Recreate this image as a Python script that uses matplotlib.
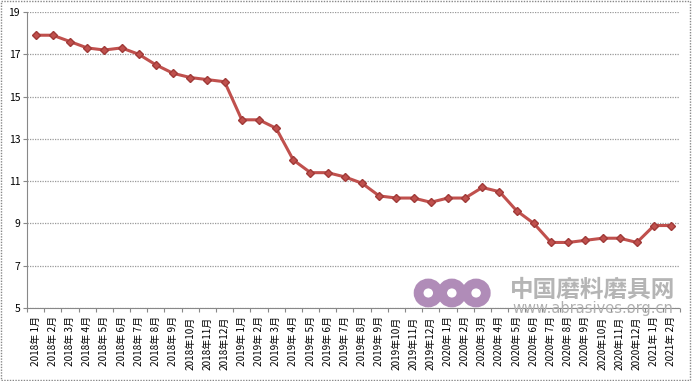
import matplotlib.pyplot as plt
from matplotlib.patches import Rectangle, Ellipse

plt.rcParams['font.family'] = ['Noto Sans CJK SC', 'DejaVu Sans']

# 月份标签
months = ['2018年 1月', '2018年 2月', '2018年 3月', '2018年 4月', '2018年 5月', '2018年 6月',
          '2018年 7月', '2018年 8月', '2018年 9月', '2018年10月', '2018年11月', '2018年12月',
          '2019年 1月', '2019年 2月', '2019年 3月', '2019年 4月', '2019年 5月', '2019年 6月',
          '2019年 7月', '2019年 8月', '2019年 9月', '2019年10月', '2019年11月', '2019年12月',
          '2020年 1月', '2020年 2月', '2020年 3月', '2020年 4月', '2020年 5月', '2020年 6月',
          '2020年 7月', '2020年 8月', '2020年 9月', '2020年10月', '2020年11月', '2020年12月',
          '2021年 1月', '2021年 2月']
# 数值
values = [17.9, 17.9, 17.6, 17.3, 17.2, 17.3, 17.0, 16.5, 16.1, 15.9, 15.8, 15.7,
          13.9, 13.9, 13.5, 12.0, 11.4, 11.4, 11.2, 10.9, 10.3, 10.2, 10.2, 10.0,
          10.2, 10.2, 10.7, 10.5, 9.6, 9.0, 8.1, 8.1, 8.2, 8.3, 8.3, 8.1,
          8.9, 8.9]
yticks = [5, 7, 9, 11, 13, 15, 17, 19]

fig = plt.figure(figsize=(6.93, 3.81), dpi=100)
ax = fig.add_axes([0.039, 0.1916, 0.942, 0.777])

x = list(range(len(months)))
ax.plot(x, values, color='#c0504d', linewidth=2.2, marker='D', markersize=4.5,
        markerfacecolor='#c0504d', markeredgecolor='#a03a38', zorder=3)

ax.set_xlim(-0.5, len(months) - 0.5)
ax.set_ylim(5, 19)
ax.set_yticks(yticks)
ax.set_yticklabels([str(v) for v in yticks], fontsize=7.5)
ax.yaxis.grid(True, color='#999999', linewidth=0.9, linestyle=(0, (1, 1)))

# 类别轴: 刻度在分隔处
ax.set_xticks([i - 0.5 for i in range(len(months) + 1)])
ax.set_xticklabels([''] * (len(months) + 1))
ax.set_xticks(x, minor=True)
ax.set_xticklabels(months, minor=True, rotation=90, fontsize=7.2)
ax.tick_params(axis='x', which='minor', length=0, pad=6)
ax.tick_params(axis='x', which='major', length=3, color='#888888')
ax.tick_params(axis='y', length=3, color='#888888', pad=2)

for s in ['top', 'right']:
    ax.spines[s].set_visible(False)
ax.spines['left'].set_color('#888888')
ax.spines['bottom'].set_color('#888888')
ax.spines['left'].set_linestyle((0, (1, 1)))
ax.spines['bottom'].set_linestyle((0, (1, 1)))

# 外框
fig.patches.append(Rectangle((0.002, 0.003), 0.993, 0.994, transform=fig.transFigure,
                             fill=False, edgecolor='#888888', linewidth=1,
                             linestyle=(0, (1, 1))))

# 水印
for cx in [0.618, 0.652, 0.687]:
    fig.patches.append(Ellipse((cx, 0.231), 0.028, 0.05, transform=fig.transFigure,
                               fill=False, edgecolor='#b08cb8', linewidth=7))
fig.text(0.855, 0.238, '中国磨料磨具网', fontsize=17, color='#b5b5b5',
         ha='center', va='center', fontweight='bold')
fig.text(0.855, 0.19, 'www.abrasives.org.cn', fontsize=10.5, color='#b0b0b0',
         ha='center', va='center', family='DejaVu Sans')

fig.savefig('out.png', dpi=100)
